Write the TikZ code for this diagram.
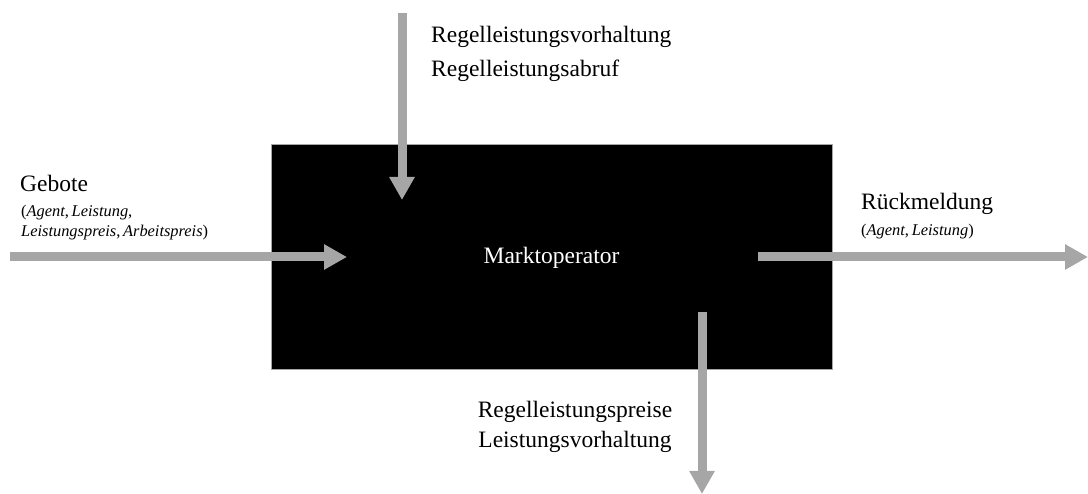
\documentclass[tikz,border=0pt]{standalone}
\usepackage{fontspec}
\setmainfont{Liberation Serif}
\usetikzlibrary{arrows.meta}
\definecolor{flowgray}{HTML}{A6A6A6}
\tikzset{
  flow/.style={draw=flowgray, line width=9pt, -{Triangle[width=24pt,length=23pt]}},
  bigtxt/.style={inner sep=0pt, font=\fontsize{23.5}{28}\selectfont},
  smalltxt/.style={inner sep=0pt, font=\fontsize{16.4}{20}\selectfont},
  box/.style={fill=black, draw=gray!70, line width=0.8pt, minimum width=561pt, minimum height=225pt, inner sep=0pt, text height=17pt, text depth=2pt, text=white, font=\fontsize{23.5}{28}\selectfont}
}
\begin{document}
\begin{tikzpicture}[x=1pt,y=-1pt]
\useasboundingbox (0,0) rectangle (1088,494);
\node[box] (mo) at (551.5,256.5) {Marktoperator};

% top input
\coordinate (topS) at (402,13);
\coordinate (topE) at (402,200);
\draw[flow] (topS) -- (topE);
\node[bigtxt, anchor=base west] (t1) at (431,43) {Regelleistungsvorhaltung};
\node[bigtxt, anchor=base west] (t2) at (431,77) {Regelleistungsabruf};

% left input
\coordinate (leftS) at (10,257);
\coordinate (leftE) at (347,257);
\draw[flow] (leftS) -- (leftE);
\node[bigtxt, anchor=base west] (g1) at (20,192) {Gebote};
\node[smalltxt, anchor=base west] (g2) at (21,217) {(\textit{Agent},\,\textit{Leistung},};
\node[smalltxt, anchor=base west] (g3) at (21,237) {\textit{Leistungspreis},\,\textit{Arbeitspreis})};

% right output
\coordinate (rightS) at (758,257);
\coordinate (rightE) at (1088,257);
\draw[flow] (rightS) -- (rightE);
\node[bigtxt, anchor=base west] (r1) at (861,210) {Rückmeldung};
\node[smalltxt, anchor=base west] (r2) at (861,236) {(\textit{Agent},\,\textit{Leistung})};

% bottom output
\coordinate (botS) at (702,312);
\coordinate (botE) at (702,494);
\draw[flow] (botS) -- (botE);
\node[bigtxt, anchor=base] (b1) at (575,418) {Regelleistungspreise};
\node[bigtxt, anchor=base] (b2) at (575,447) {Leistungsvorhaltung};
\end{tikzpicture}
\end{document}
